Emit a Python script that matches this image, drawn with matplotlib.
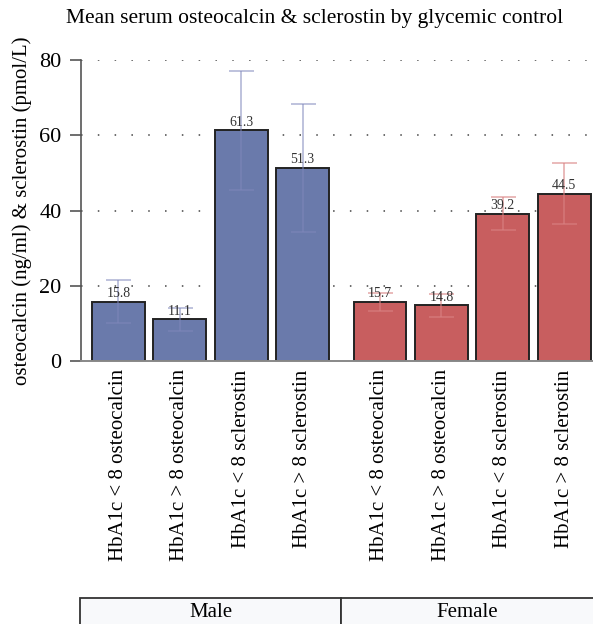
import matplotlib.pyplot as plt
from matplotlib.patches import Rectangle

plt.rcParams["font.family"] = ["Liberation Serif", "DejaVu Serif"]

# group means with +/- error
labels = [
    "HbA1c < 8 osteocalcin",
    "HbA1c > 8 osteocalcin",
    "HbA1c < 8 sclerostin",
    "HbA1c > 8 sclerostin",
]
male_means = [15.8, 11.1, 61.3, 51.3]
male_err = [5.6, 3.1, 15.8, 17.1]
female_means = [15.7, 14.8, 39.2, 44.5]
female_err = [2.4, 3.1, 4.3, 8.1]
groups = ["Male", "Female"]

male_color = "#6a7aab"
female_color = "#c85e5f"

W, H = 593, 624
fig = plt.figure(figsize=(W / 100, H / 100), dpi=100)
ax_left = 81 / W
ax_bottom = (H - 361) / H
ax_top = (H - 60) / H
ax = fig.add_axes([ax_left, ax_bottom, 1 - ax_left, ax_top - ax_bottom])

gap = 0.26
male_x = [0, 1, 2, 3]
female_x = [4 + gap + i for i in range(4)]
width = 0.86

ax.bar(male_x, male_means, width=width, color=male_color,
       edgecolor="#222222", linewidth=1.4, zorder=2)
ax.bar(female_x, female_means, width=width, color=female_color,
       edgecolor="#222222", linewidth=1.4, zorder=2)
ax.errorbar(male_x, male_means, yerr=male_err, fmt="none",
            ecolor="#7f87bb", alpha=0.55, elinewidth=1.3, capsize=9,
            capthick=1.3, zorder=3)
ax.errorbar(female_x, female_means, yerr=female_err, fmt="none",
            ecolor="#d98283", alpha=0.6, elinewidth=1.3, capsize=9,
            capthick=1.3, zorder=3)

for xs, vals in ((male_x, male_means), (female_x, female_means)):
    for x, v in zip(xs, vals):
        ax.text(x, v + 0.4, f"{v:.1f}", ha="center", va="bottom",
                fontsize=10, color="#333333", zorder=4)

ax.set_xlim(-0.61, female_x[-1] + 0.47)
ax.set_ylim(0, 80)
ax.set_yticks([0, 20, 40, 60, 80])
ax.tick_params(axis="y", labelsize=16, length=8, width=1.2,
               color="#555555", pad=6)
ax.set_xticks(male_x + female_x)
ax.set_xticklabels(labels * 2, rotation=90, fontsize=15)
ax.tick_params(axis="x", length=0, pad=6)

for y in (20, 40, 60, 80):
    ax.axhline(y, color="#444444", linewidth=1.1, linestyle=(0, (1, 10)),
               zorder=1)

for side in ("top", "right"):
    ax.spines[side].set_visible(False)
ax.spines["left"].set_color("#555555")
ax.spines["left"].set_linewidth(1.2)
ax.spines["bottom"].set_color("#888888")
ax.spines["bottom"].set_linewidth(1.4)

ax.set_ylabel("osteocalcin (ng/ml) & sclerostin (pmol/L)", fontsize=15,
              labelpad=5)
fig.text(315 / W, 1 - 18 / H,
         "Mean serum osteocalcin & sclerostin by glycemic control",
         ha="center", va="center", fontsize=15.5)

# group strip along the bottom
tab = fig.add_axes([ax_left - 1 / W, 0, 1 - ax_left + 1 / W, 26 / H])
tab.set_xlim(ax.get_xlim()[0] - 1 / 61.5, ax.get_xlim()[1])
tab.set_ylim(0, 1)
tab.axis("off")
split = (male_x[-1] + female_x[0]) / 2
cells = [(tab.get_xlim()[0], split), (split, tab.get_xlim()[1] + 1)]
for (x0, x1), name in zip(cells, groups):
    tab.add_patch(Rectangle((x0, -1), x1 - x0, 2, facecolor="#f8f9fb",
                            edgecolor="#333333", linewidth=1.3,
                            clip_on=False))
    tab.text((x0 + min(x1, tab.get_xlim()[1])) / 2, 0.45, name,
             ha="center", va="center", fontsize=15)

fig.savefig("out.png", dpi=100)
